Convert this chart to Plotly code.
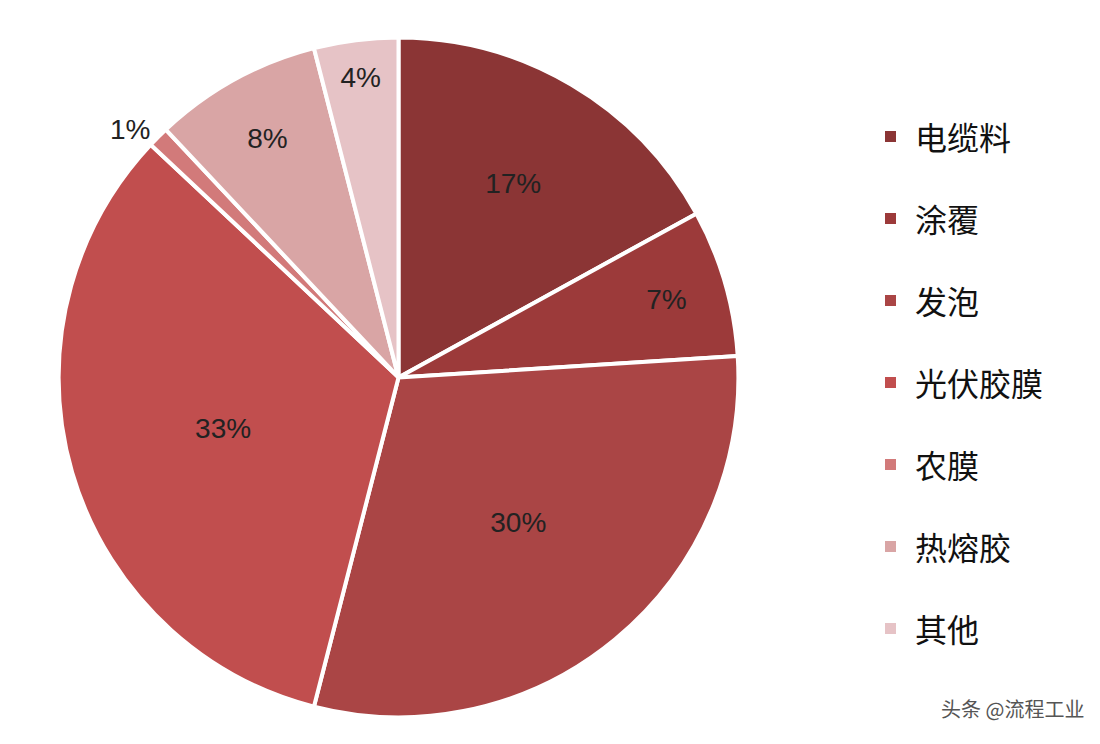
import plotly.graph_objects as go

labels = ["电缆料", "涂覆", "发泡", "光伏胶膜", "农膜", "热熔胶", "其他"]
values = [17, 7, 30, 33, 1, 8, 4]
colors = ["#8B3535", "#9C3A3A", "#AA4545", "#C14E4E", "#D27A7A", "#D9A5A5", "#E6C3C6"]

fig = go.Figure(go.Pie(
    labels=labels, values=values, sort=False, direction="clockwise", rotation=0,
    marker=dict(colors=colors, line=dict(color="white", width=4)),
    texttemplate="%{value}%", textinfo="text",
    textposition=["inside"] * 4 + ["outside", "inside", "inside"],
    insidetextorientation="horizontal",
    textfont=dict(family="Liberation Sans", size=28, color="#222"),
    domain=dict(x=[0.046, 0.664], y=[0.045, 0.962]),
    showlegend=False,
))

# legend drawn manually to match the wide spacing
for i, (lab, col) in enumerate(zip(labels, colors)):
    y = 1 - (128 + i * 82) / 744
    fig.add_shape(type="rect", xref="paper", yref="paper",
                  x0=877 / 1100, x1=888 / 1100, y0=y - 6 / 744, y1=y + 5 / 744,
                  fillcolor=col, line=dict(width=0))
    fig.add_annotation(x=905 / 1100, y=y, xref="paper", yref="paper", text=lab,
                       showarrow=False, xanchor="left", yanchor="middle",
                       font=dict(family="Noto Sans CJK SC", size=32, color="#111"))

fig.add_annotation(x=1078 / 1100, y=1 - 700 / 744, xref="paper", yref="paper",
                   text="头条 @流程工业", showarrow=False, xanchor="right", yanchor="middle",
                   font=dict(family="Noto Sans CJK SC", size=20, color="#555"))

fig.update_layout(width=1100, height=744, margin=dict(l=0, r=0, t=0, b=0),
                  paper_bgcolor="white", plot_bgcolor="white")
fig.write_html("out.html")
